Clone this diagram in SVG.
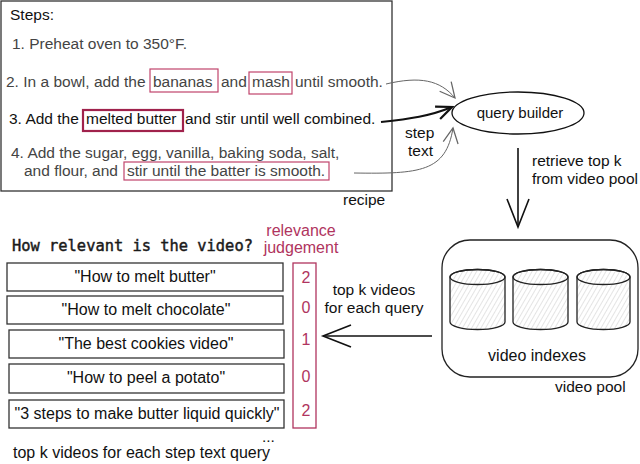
<svg xmlns="http://www.w3.org/2000/svg" width="640" height="464" viewBox="0 0 640 464">
<defs>
<style>
text{font-family:"Liberation Sans",Arial,sans-serif;font-size:15.5px;fill:#111}
.g{fill:#444}
.c{fill:#b0345e}
.l{font-size:16px}
.mono{font-family:"DejaVu Sans Mono","Liberation Mono",monospace;font-size:15.4px;fill:#1a1a1a;stroke:#1a1a1a;stroke-width:0.45}
.mid{text-anchor:middle}
.box{fill:#fff;stroke:#333;stroke-width:1.3}
.hl{fill:none;stroke:#c0446c;stroke-width:1.2}
.hl2{fill:none;stroke:#a0224c;stroke-width:2.2}
.cyl{fill:url(#hatch);stroke:#222;stroke-width:1.3}
.cyltop{fill:none;stroke:#222;stroke-width:1.3}
.gl{fill:none;stroke:#666;stroke-width:1}
.bl{fill:none;stroke:#111;stroke-width:2}
.big{fill:none;stroke:#111;stroke-width:1.6}
</style>
<pattern id="hatch" width="4" height="4" patternUnits="userSpaceOnUse" patternTransform="rotate(30)">
<line x1="0" y1="0" x2="0" y2="4" stroke="#bbb" stroke-width="0.8"/>
</pattern>
<marker id="ag" markerUnits="userSpaceOnUse" markerWidth="20" markerHeight="20" viewBox="-14 -8 16 16" refX="0" refY="0" orient="auto">
<path d="M-12,-6 L0,0 L-12,6" fill="none" stroke="#666" stroke-width="1"/>
</marker>
<marker id="ab" markerUnits="userSpaceOnUse" markerWidth="20" markerHeight="20" viewBox="-16 -8 18 16" refX="0" refY="0" orient="auto">
<path d="M-14,-6 L0,0 L-14,6" fill="none" stroke="#111" stroke-width="2"/>
</marker>
<marker id="abig" markerUnits="userSpaceOnUse" markerWidth="34" markerHeight="30" viewBox="-31 -14 34 28" refX="0" refY="0" orient="auto">
<path d="M-28,-11 L0,0 L-28,11" fill="none" stroke="#111" stroke-width="1.6"/>
</marker>
</defs>
<rect width="640" height="464" fill="#fff"/>

<g id="recipe">
<rect x="1" y="1" width="391" height="190" fill="#fff" stroke="#333" stroke-width="1.3"/>
<text x="10" y="20">Steps:</text>
<text class="g" x="12" y="49">1. Preheat oven to 350°F.</text>
<text class="g" y="87"><tspan x="6">2. In a bowl, add the</tspan><tspan x="153">bananas</tspan><tspan x="221">and</tspan><tspan x="252">mash</tspan><tspan x="295">until smooth.</tspan></text>
<rect class="hl" x="150" y="69" width="68" height="23"/>
<rect class="hl" x="249" y="72" width="43" height="22"/>
<text y="124"><tspan x="9">3. Add the</tspan><tspan x="86">melted butter</tspan><tspan x="185">and stir until well combined.</tspan></text>
<rect class="hl2" x="83" y="110" width="100" height="21"/>
<text class="g" x="11" y="158">4. Add the sugar, egg, vanilla, baking soda, salt,</text>
<text class="g" y="176"><tspan x="24">and flour, and</tspan><tspan x="127">stir until the batter is smooth.</tspan></text>
<rect class="hl" x="124" y="162" width="205" height="18"/>
<text x="343" y="205">recipe</text>
</g>

<g id="query-builder">
<ellipse cx="518" cy="113" rx="66" ry="21" fill="#fff" stroke="#111" stroke-width="1.3"/>
<text class="mid" x="520" y="118" style="font-size:15px">query builder</text>
</g>

<g id="video-pool">
<rect x="442" y="240" width="196" height="137" rx="28" ry="28" fill="#fff" stroke="#222" stroke-width="1.3"/>
<path class="cyl" d="M450,277 L450,322 A27.5,7.5 0 0 0 505,322 L505,277 A27.5,7.5 0 0 0 450,277 Z"/>
<ellipse class="cyltop" cx="477.5" cy="277" rx="27.5" ry="7.5"/>
<path class="cyl" d="M513,277 L513,322 A27.5,7.5 0 0 0 568,322 L568,277 A27.5,7.5 0 0 0 513,277 Z"/>
<ellipse class="cyltop" cx="540.5" cy="277" rx="27.5" ry="7.5"/>
<path class="cyl" d="M577,277 L577,322 A26.5,7.5 0 0 0 630,322 L630,277 A26.5,7.5 0 0 0 577,277 Z"/>
<ellipse class="cyltop" cx="603.5" cy="277" rx="26.5" ry="7.5"/>
<text class="mid" x="537" y="361" style="font-size:16px">video indexes</text>
<text x="555" y="392">video pool</text>
</g>

<g id="videos">
<text class="mono" x="12" y="251">How relevant is the video?</text>
<rect class="box" x="7" y="263" width="276" height="28"/>
<text class="mid l" x="145" y="282">"How to melt butter"</text>
<rect class="box" x="7" y="296" width="276" height="28"/>
<text class="mid l" x="146" y="315">"How to melt chocolate"</text>
<rect class="box" x="9" y="330" width="275" height="28"/>
<text class="mid l" x="146" y="349">"The best cookies video"</text>
<rect class="box" x="9" y="364" width="275" height="29"/>
<text class="mid l" x="146" y="383">"How to peel a potato"</text>
<rect class="box" x="9" y="400" width="275" height="28"/>
<text class="mid l" x="147" y="419">"3 steps to make butter liquid quickly"</text>
<text x="262" y="442">...</text>
<text class="l" x="13" y="458">top k videos for each step text query</text>
</g>

<g id="judgement">
<text class="c mid l" x="301" y="236">relevance</text>
<text class="c mid l" x="301" y="253">judgement</text>
<rect x="293" y="263" width="23" height="165" fill="none" stroke="#b0345e" stroke-width="1.3"/>
<text class="c mid l" x="306" y="283">2</text>
<text class="c mid l" x="306" y="313">0</text>
<text class="c mid l" x="306" y="345">1</text>
<text class="c mid l" x="306" y="382">0</text>
<text class="c mid l" x="306" y="416">2</text>
</g>

<g id="connectors">
<path class="gl" d="M386,84 C420,76 440,80 455,98" marker-end="url(#ag)"/>
<path class="bl" d="M381,122 C410,119 430,116 452,107" marker-end="url(#ab)"/>
<path class="gl" d="M354,173 C420,174 446,172 453,128" marker-end="url(#ag)"/>
<text x="405" y="138">step</text>
<text x="408" y="156">text</text>
<path class="big" d="M518,148 L518,227" marker-end="url(#abig)"/>
<text x="532" y="166">retrieve top k</text>
<text x="532" y="184">from video pool</text>
<path class="big" d="M432,336 L323,336" marker-end="url(#abig)"/>
<text class="mid" x="374" y="295">top k videos</text>
<text class="mid" x="374" y="313">for each query</text>
</g>
</svg>
